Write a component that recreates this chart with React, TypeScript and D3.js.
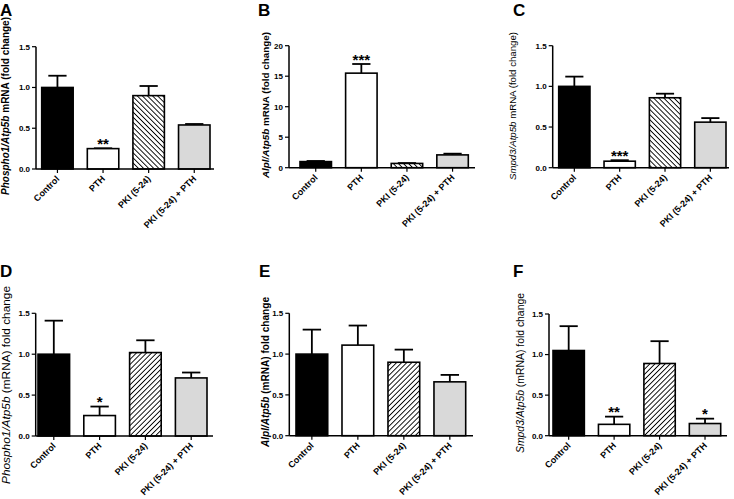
import React from "react";
import * as d3 from "d3";

const groups = ["Control", "PTH", "PKI (5-24)", "PKI (5-24) + PTH"];
const panelLetters = ["A", "B", "C", "D", "E", "F"];

const meansA = [1.0, 0.25, 0.9, 0.54];
const errA = [0.144, 0.004, 0.118, 0.012];
const meansB = [1.0, 15.5, 0.7, 2.1];
const errB = [0.1, 1.5, 0.06, 0.2];
const meansC = [1.0, 0.08, 0.86, 0.56];
const errC = [0.12, 0.012, 0.05, 0.05];
const meansD = [1.0, 0.25, 1.02, 0.71];
const errD = [0.41, 0.11, 0.15, 0.066];
const meansE = [1.0, 1.11, 0.9, 0.66];
const errE = [0.3, 0.24, 0.155, 0.085];
const meansF = [1.05, 0.14, 0.89, 0.15];
const errF = [0.3, 0.095, 0.275, 0.06];

const sigA = ["", "**", "", ""];
const sigB = ["", "***", "", ""];
const sigC = ["", "***", "", ""];
const sigD = ["", "*", "", ""];
const sigE = ["", "", "", ""];
const sigF = ["", "**", "", "*"];

const ticksSmall = [0, 0.5, 1.0, 1.5];
const ticksB = [0, 5, 10, 15, 20];

const genes = ["Phospho1/Atp5b", "Alpl/Atp5b", "Smpd3/Atp5b", "Phospho1/Atp5b", "Alpl/Atp5b", "Smpd3/Atp5b"];
const titleRest = [" mRNA (fold change)", " mRNA (fold change)", " mRNA (fold change)", " (mRNA) fold change", " (mRNA) fold change", " (mRNA) fold change"];

const panelsData = [
  { means: meansA, errs: errA, sig: sigA, ticks: ticksSmall, max: 1.5, fmt: ".1f" },
  { means: meansB, errs: errB, sig: sigB, ticks: ticksB, max: 20, fmt: "d" },
  { means: meansC, errs: errC, sig: sigC, ticks: ticksSmall, max: 1.5, fmt: ".1f" },
  { means: meansD, errs: errD, sig: sigD, ticks: ticksSmall, max: 1.5, fmt: ".1f" },
  { means: meansE, errs: errE, sig: sigE, ticks: ticksSmall, max: 1.5, fmt: ".1f" },
  { means: meansF, errs: errF, sig: sigF, ticks: ticksSmall, max: 1.5, fmt: ".1f" },
];

// layout (positions in px)
const layout = [
  { ax: 36, top: 46.7, bottom: 169, x0: 41.7, x1: 210, xEnd: 214, lx: 0, ly: 15.5, tx: 9.2, ty: 106, tl: 178, fs: 10, bold: true, hatch: "back" },
  { ax: 289, top: 45.7, bottom: 167.7, x0: 300, x1: 468.3, xEnd: 475, lx: 258, ly: 15.5, tx: 269, ty: 105, tl: 146, fs: 9.8, bold: true, hatch: "back" },
  { ax: 552.7, top: 45.7, bottom: 167.7, x0: 558.7, x1: 726, xEnd: 729, lx: 513, ly: 15.5, tx: 515.5, ty: 106, tl: 148, fs: 9.6, bold: false, hatch: "back" },
  { ax: 35.7, top: 313.3, bottom: 436, x0: 38, x1: 207, xEnd: 213, lx: 0, ly: 277, tx: 9.8, ty: 385, tl: 198, fs: 10.5, bold: false, hatch: "fwd" },
  { ax: 289.3, top: 313.3, bottom: 435.7, x0: 296, x1: 465.7, xEnd: 473, lx: 259, ly: 277, tx: 269, ty: 372, tl: 150, fs: 10, bold: true, hatch: "fwd" },
  { ax: 549, top: 314, bottom: 435.7, x0: 553, x1: 720.7, xEnd: 727, lx: 513, ly: 277, tx: 524, ty: 373, tl: 160, fs: 10.4, bold: false, hatch: "fwd" },
];

const fills = ["#000000", "#ffffff", "HATCH", "#d9d9d9"];
const FONT = "'Liberation Sans', Arial, Helvetica, sans-serif";

function Panel({ i }: { i: number }) {
  const d = panelsData[i];
  const L = layout[i];
  const y = d3.scaleLinear().domain([0, d.max]).range([L.bottom, L.top]);
  const x = d3.scaleBand<string>().domain(groups).range([L.x0, L.x1]).paddingInner(0.31).paddingOuter(0);
  const bw = x.bandwidth();
  const fmt = d3.format(d.fmt);
  const capW = bw * 0.58;
  return (
    <g>
      <text x={L.lx} y={L.ly} fontFamily={FONT} fontWeight="bold" fontSize={17}>{panelLetters[i]}</text>
      <text
        transform={`translate(${L.tx},${L.ty}) rotate(-90)`}
        textAnchor="middle"
        fontFamily={FONT}
        fontWeight={L.bold ? "bold" : "normal"}
        fontSize={L.fs}
        textLength={L.tl}
        lengthAdjust="spacingAndGlyphs"
      >
        <tspan fontStyle="italic">{genes[i]}</tspan>
        <tspan>{titleRest[i]}</tspan>
      </text>
      {/* y axis */}
      <line x1={L.ax} x2={L.ax} y1={L.top} y2={L.bottom} stroke="#000" strokeWidth={1.5} />
      {d.ticks.map((t) => (
        <g key={t}>
          <line x1={L.ax - 4} x2={L.ax} y1={y(t)} y2={y(t)} stroke="#000" strokeWidth={1.2} />
          <text x={L.ax - 6} y={y(t)} dy="0.35em" textAnchor="end" fontFamily={FONT} fontWeight="bold" fontSize={8}>
            {fmt(t)}
          </text>
        </g>
      ))}
      {/* bars */}
      {groups.map((g, k) => {
        const bx = x(g) as number;
        const top = y(d.means[k]);
        const et = y(d.means[k] + d.errs[k]);
        const cx = bx + bw / 2;
        const fill = fills[k] === "HATCH" ? `url(#hatch-${L.hatch})` : fills[k];
        return (
          <g key={g}>
            <line x1={cx} x2={cx} y1={top} y2={et} stroke="#000" strokeWidth={1.8} />
            <line x1={cx - capW / 2} x2={cx + capW / 2} y1={et} y2={et} stroke="#000" strokeWidth={1.8} />
            <rect x={bx} y={top} width={bw} height={L.bottom - top} fill={fill} stroke="#000" strokeWidth={1.6} />
            {d.sig[k] && (
              <text x={cx} y={et + 0.5} textAnchor="middle" fontFamily={FONT} fontWeight="bold" fontSize={15}>
                {d.sig[k]}
              </text>
            )}
          </g>
        );
      })}
      {/* x axis */}
      <line x1={L.ax} x2={L.xEnd} y1={L.bottom} y2={L.bottom} stroke="#000" strokeWidth={1.5} />
      {groups.map((g) => {
        const cx = (x(g) as number) + bw / 2;
        return (
          <g key={g}>
            <line x1={cx} x2={cx} y1={L.bottom} y2={L.bottom + 4} stroke="#000" strokeWidth={1.2} />
            <text
              transform={`translate(${cx + 2.5},${L.bottom + 10.5}) rotate(-45)`}
              textAnchor="end"
              fontFamily={FONT}
              fontWeight="bold"
              fontSize={9}
            >
              {g}
            </text>
          </g>
        );
      })}
    </g>
  );
}

export default function App() {
  return (
    <svg width={734} height={499} style={{ position: "absolute", left: 0, top: 0, background: "#fff" }}>
      <defs>
        <pattern id="hatch-back" patternUnits="userSpaceOnUse" width={3.6} height={3.6} patternTransform="rotate(-45)">
          <rect width={3.6} height={3.6} fill="#fff" />
          <line x1={0} y1={0} x2={0} y2={3.6} stroke="#000" strokeWidth={1.8} />
        </pattern>
        <pattern id="hatch-fwd" patternUnits="userSpaceOnUse" width={3.6} height={3.6} patternTransform="rotate(45)">
          <rect width={3.6} height={3.6} fill="#fff" />
          <line x1={0} y1={0} x2={0} y2={3.6} stroke="#000" strokeWidth={1.8} />
        </pattern>
      </defs>
      <rect width={734} height={499} fill="#fff" />
      {panelLetters.map((_, i) => (
        <Panel key={i} i={i} />
      ))}
    </svg>
  );
}
